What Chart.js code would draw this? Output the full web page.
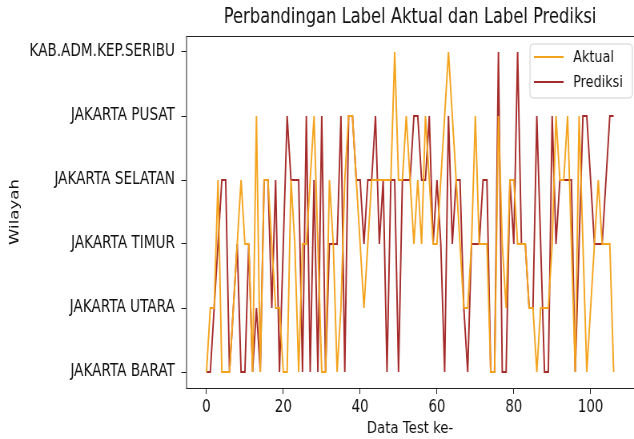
<!DOCTYPE html>
<html>
<head>
<meta charset="utf-8">
<script src="https://cdn.jsdelivr.net/npm/chart.js@4.4.0/dist/chart.umd.min.js"></script>
<style>
  html, body { margin: 0; padding: 0; background: #fff; overflow: hidden; }
  #wrap { width: 634px; height: 439px; overflow: hidden; }
  /* gambar asli sedikit "gepeng" horizontal, jadi canvas lebar lalu diperkecil */
  #grafik { transform: scaleX(0.8005); transform-origin: 0 0; }
</style>
</head>
<body>
<div id="wrap"><canvas id="grafik" width="792" height="439"></canvas></div>
<script>
// kode wilayah: 0 = bawah ... 5 = atas
var wilayah = [
  "JAKARTA BARAT",
  "JAKARTA UTARA",
  "JAKARTA TIMUR",
  "JAKARTA SELATAN",
  "JAKARTA PUSAT",
  "KAB.ADM.KEP.SERIBU"
];

var labelAktual = [
  0, 1, 1, 3, 0, 0, 0, 1, 2, 3, 2, 2, 0, 4, 0, 3, 3,
  2, 1, 1, 0, 0, 3, 2, 0, 2, 2, 3, 4, 2, 0, 0, 3, 2, 0,
  1, 3, 4, 4, 3, 2, 1, 2, 3, 3, 3, 3, 3, 3, 5, 3, 3, 4,
  3, 2, 3, 2, 4, 3, 2, 2, 3, 4, 5, 4, 3, 2, 1, 1, 2, 4,
  2, 2, 2, 0, 0, 4, 2, 1, 3, 3, 2, 2, 2, 1, 1, 0, 1, 1,
  1, 2, 4, 3, 3, 4, 2, 0, 4, 2, 0, 1, 2, 3, 2, 2, 2, 0
];

var labelPrediksi = [
  0, 0, 1, 2, 3, 3, 0, 1, 2, 0, 0, 2, 0, 1, 0, 3, 3,
  1, 3, 0, 2, 4, 3, 3, 3, 0, 4, 0, 3, 0, 4, 0, 2, 2, 2,
  4, 0, 4, 4, 3, 3, 2, 3, 3, 4, 2, 3, 0, 3, 3, 0, 3, 3,
  3, 4, 4, 3, 3, 4, 2, 3, 2, 0, 4, 2, 3, 3, 1, 0, 2, 2,
  2, 3, 3, 0, 0, 5, 0, 0, 3, 2, 5, 2, 2, 1, 1, 4, 2, 0,
  0, 4, 2, 3, 3, 3, 3, 0, 2, 4, 4, 3, 2, 2, 2, 3, 4, 4
];

var tickX = [0, 20, 40, 60, 80, 100];

var judul = "Perbandingan Label Aktual dan Label Prediksi";
var warnaAktual = "#f4a31c";
var warnaPrediksi = "#a52a2a";
var fontKu = "'DejaVu Sans', sans-serif";

function keTitik(arr) {
  let hasil = [];
  for (let i = 0; i < arr.length; i++) {
    hasil.push({ x: i, y: arr[i] });
  }
  return hasil;
}

// judul, bingkai, dan legenda ala matplotlib
var pluginHiasan = {
  id: "hiasan",
  afterDraw: function (chart) {
    var ctx = chart.ctx;
    var area = chart.chartArea;
    ctx.save();

    ctx.strokeStyle = "#222";
    ctx.lineWidth = 1;
    ctx.strokeRect(area.left + 0.5, area.top + 0.5, area.right - area.left, area.bottom - area.top);

    ctx.fillStyle = "#111";
    ctx.font = "20.4px " + fontKu;
    ctx.textAlign = "center";
    ctx.textBaseline = "middle";
    ctx.fillText(judul, (area.left + area.right) / 2, 18);

    // kotak legenda
    var bx = 662, by = 44, bw = 128, bh = 54, r = 4;
    ctx.beginPath();
    ctx.moveTo(bx + r, by);
    ctx.lineTo(bx + bw - r, by);
    ctx.quadraticCurveTo(bx + bw, by, bx + bw, by + r);
    ctx.lineTo(bx + bw, by + bh - r);
    ctx.quadraticCurveTo(bx + bw, by + bh, bx + bw - r, by + bh);
    ctx.lineTo(bx + r, by + bh);
    ctx.quadraticCurveTo(bx, by + bh, bx, by + bh - r);
    ctx.lineTo(bx, by + r);
    ctx.quadraticCurveTo(bx, by, bx + r, by);
    ctx.closePath();
    ctx.fillStyle = "rgba(255,255,255,0.85)";
    ctx.fill();
    ctx.strokeStyle = "#d0d0d0";
    ctx.stroke();

    var item = [["Aktual", warnaAktual, 57], ["Prediksi", warnaPrediksi, 82]];
    ctx.font = "16px " + fontKu;
    ctx.textAlign = "left";
    for (var k = 0; k < item.length; k++) {
      ctx.strokeStyle = item[k][1];
      ctx.lineWidth = 2;
      ctx.beginPath();
      ctx.moveTo(667, item[k][2]);
      ctx.lineTo(704, item[k][2]);
      ctx.stroke();
      ctx.fillStyle = "#111";
      ctx.fillText(item[k][0], 716, item[k][2] + 1);
    }
    ctx.restore();
  }
};

var ctx = document.getElementById("grafik").getContext("2d");
var myChart = new Chart(ctx, {
  type: "line",
  data: {
    datasets: [
      {
        label: "Aktual",
        data: keTitik(labelAktual),
        borderColor: warnaAktual,
        borderWidth: 1.9,
        pointRadius: 0,
        tension: 0,
        fill: false
      },
      {
        label: "Prediksi",
        data: keTitik(labelPrediksi),
        borderColor: warnaPrediksi,
        borderWidth: 1.9,
        pointRadius: 0,
        tension: 0,
        fill: false
      }
    ]
  },
  options: {
    responsive: false,
    animation: false,
    devicePixelRatio: 1,
    layout: { padding: { top: 36, right: -5.5, left: 0, bottom: 0 } },
    plugins: {
      legend: { display: false },
      tooltip: { enabled: false }
    },
    scales: {
      x: {
        type: "linear",
        min: -5.3,
        max: 111.3,
        afterFit: function (s) { s.height = 51; },
        afterBuildTicks: function (s) {
          s.ticks = tickX.map(function (v) { return { value: v }; });
        },
        ticks: {
          color: "#111",
          font: { family: fontKu, size: 16.8 },
          padding: 4,
          maxRotation: 0,
          callback: function (v) { return String(v); }
        },
        grid: { drawOnChartArea: false, drawTicks: true, tickLength: 6, color: "#222" },
        border: { display: false },
        title: {
          display: true,
          text: "Data Test ke-",
          color: "#111",
          font: { family: fontKu, size: 16.6 },
          padding: { top: 0, bottom: 0 }
        }
      },
      y: {
        type: "linear",
        min: -0.25,
        max: 5.25,
        afterFit: function (s) { s.width = 232.5; },
        afterBuildTicks: function (s) {
          s.ticks = wilayah.map(function (w, i) { return { value: i }; });
        },
        ticks: {
          color: "#111",
          font: { family: fontKu, size: 17 },
          padding: 8,
          callback: function (v) { return wilayah[v]; }
        },
        grid: { drawOnChartArea: false, drawTicks: true, tickLength: 6, color: "#222" },
        border: { display: false },
        title: {
          display: true,
          text: "Wilayah",
          color: "#111",
          font: { family: fontKu, size: 16.6 },
          padding: { top: 9, bottom: 0 }
        }
      }
    }
  },
  plugins: [pluginHiasan]
});
</script>
</body>
</html>
